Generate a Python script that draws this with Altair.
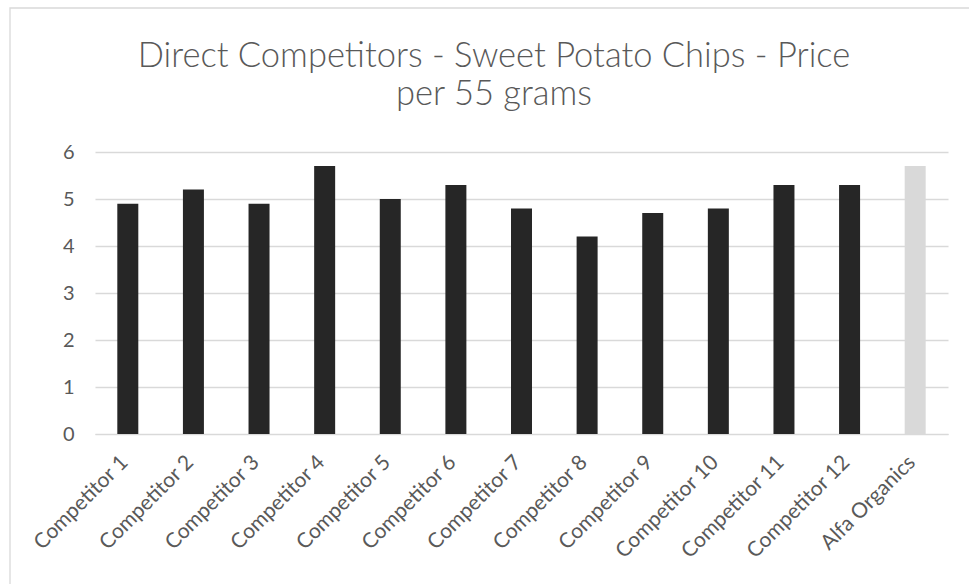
import altair as alt
import pandas as pd

brands = ["Competitor 1", "Competitor 2", "Competitor 3", "Competitor 4", "Competitor 5",
          "Competitor 6", "Competitor 7", "Competitor 8", "Competitor 9", "Competitor 10",
          "Competitor 11", "Competitor 12", "Alfa Organics"]
prices = [4.9, 5.2, 4.9, 5.7, 5.0, 5.3, 4.8, 4.2, 4.7, 4.8, 5.3, 5.3, 5.7]
y_ticks = [0, 1, 2, 3, 4, 5, 6]
highlight = "Alfa Organics"
title_lines = ["Direct Competitors - Sweet Potato Chips - Price", "per 55 grams"]

df = pd.DataFrame({"brand": brands, "price": prices})

FONT = "Lato"
TXT = "#595959"
GRID = "#d9d9d9"

bars = alt.Chart(df).mark_bar(size=21).encode(
    x=alt.X("brand:N", sort=brands, title=None,
            scale=alt.Scale(paddingInner=0, paddingOuter=0),
            axis=alt.Axis(labelAngle=-45, labelAlign="right", labelBaseline="middle",
                          labelFontSize=21, labelFont=FONT, labelColor=TXT,
                          labelPadding=25, labelOffset=-3, ticks=False, domain=True,
                          domainColor=GRID, grid=False)),
    y=alt.Y("price:Q", title=None, scale=alt.Scale(domain=[0, 6], nice=False),
            axis=alt.Axis(values=y_ticks, labelFontSize=20, labelFont=FONT, labelColor=TXT,
                          labelPadding=21, ticks=False, domain=False, gridColor=GRID,
                          gridWidth=1.3)),
    color=alt.condition(alt.datum.brand == highlight, alt.value("#d9d9d9"), alt.value("#262626")),
)

deco = pd.DataFrame({"k": [0]})

border = alt.Chart(deco).mark_rect(
    fill=None, stroke=GRID, strokeWidth=1.3
).encode(x=alt.value(-85), x2=alt.value(900), y=alt.value(-144), y2=alt.value(460))

title = alt.Chart(deco).mark_text(
    text=title_lines, font=FONT, fontSize=34.5, fontWeight=300, color=TXT, align="center",
    baseline="alphabetic", lineHeight=38
).encode(x=alt.value(399), y=alt.value(-85))

chart = alt.layer(border, bars, title).properties(
    width=853, height=282,
    background="white",
    padding={"left": 95, "top": 152, "right": 21, "bottom": 150},
    autosize=alt.AutoSizeParams(type="none"),
).configure_view(stroke=None)

chart.save("out.html", embed_options={"renderer": "svg", "actions": False})
